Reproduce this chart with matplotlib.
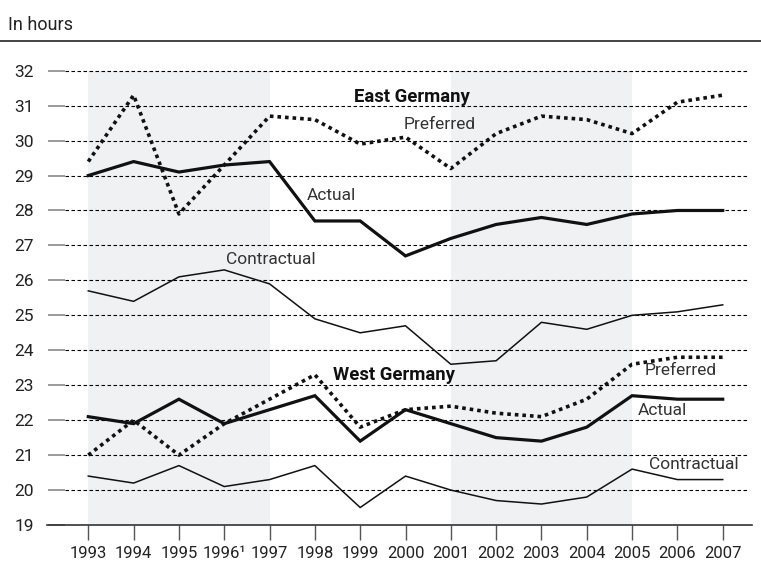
import matplotlib
matplotlib.use("Agg")
import matplotlib.pyplot as plt

plt.rcParams['font.family'] = ['Roboto', 'DejaVu Sans']

years = list(range(1993, 2008))
year_labels = ["1993", "1994", "1995", "1996¹", "1997", "1998", "1999", "2000",
               "2001", "2002", "2003", "2004", "2005", "2006", "2007"]

east_preferred = [29.4, 31.3, 27.9, 29.3, 30.7, 30.6, 29.9, 30.1, 29.2, 30.2, 30.7, 30.6, 30.2, 31.1, 31.3]
east_actual = [29.0, 29.4, 29.1, 29.3, 29.4, 27.7, 27.7, 26.7, 27.2, 27.6, 27.8, 27.6, 27.9, 28.0, 28.0]
east_contractual = [25.7, 25.4, 26.1, 26.3, 25.9, 24.9, 24.5, 24.7, 23.6, 23.7, 24.8, 24.6, 25.0, 25.1, 25.3]

west_preferred = [21.0, 22.0, 21.0, 21.9, 22.6, 23.3, 21.8, 22.3, 22.4, 22.2, 22.1, 22.6, 23.6, 23.8, 23.8]
west_actual = [22.1, 21.9, 22.6, 21.9, 22.3, 22.7, 21.4, 22.3, 21.9, 21.5, 21.4, 21.8, 22.7, 22.6, 22.6]
west_contractual = [20.4, 20.2, 20.7, 20.1, 20.3, 20.7, 19.5, 20.4, 20.0, 19.7, 19.6, 19.8, 20.6, 20.3, 20.3]

shaded_periods = [(1993, 1997), (2001, 2005)]
yticks = list(range(19, 33))

W, H = 761, 565
fig = plt.figure(figsize=(W / 100, H / 100), dpi=100)
ax = fig.add_axes([65 / W, 40 / H, 682 / W, (525 - 70.7) / H])

ax.set_xlim(1992.486, 2007.536)
ax.set_ylim(19, 32)

for a, b in shaded_periods:
    ax.axvspan(a, b, ymin=0, ymax=1, color='#f0f1f3', zorder=0, lw=0)

for y in yticks[1:]:
    ax.axhline(y, color='black', lw=0.8, ls=(0, (3.2, 2.2)), zorder=1, clip_on=False)

# bottom solid axis line extended
ax.plot([-0.026, 1.008], [0, 0], transform=ax.transAxes, color='#333333', lw=1.2,
        clip_on=False, zorder=2)

black = '#111111'
dot = (0, (1.0, 1.1))
ax.plot(years, east_preferred, color=black, lw=2.6, ls=dot, zorder=3)
ax.plot(years, east_actual, color=black, lw=2.3, zorder=3, solid_joinstyle='miter')
ax.plot(years, east_contractual, color=black, lw=1.1, zorder=3)
ax.plot(years, west_preferred, color=black, lw=2.6, ls=dot, zorder=3)
ax.plot(years, west_actual, color=black, lw=2.3, zorder=3, solid_joinstyle='miter')
ax.plot(years, west_contractual, color=black, lw=1.1, zorder=3)

for s in ['top', 'right', 'left', 'bottom']:
    ax.spines[s].set_visible(False)

ax.set_yticks(yticks)
ax.set_yticklabels([str(v) for v in yticks])
ax.tick_params(axis='y', length=12.2, width=1.4, color='#9a9a9a', pad=10,
               labelsize=12.5, labelcolor='#222222')
ax.set_xticks(years)
ax.set_xticklabels(year_labels)
ax.tick_params(axis='x', length=10.8, width=1.0, color='#555555', pad=4,
               labelsize=12, labelcolor='#222222', direction='out')

txt = dict(color='#333333', fontsize=12.5, zorder=4)
ax.text(2000.15, 31.25, "East Germany", ha='center', va='center', fontweight='bold',
        color='#111111', fontsize=13.3, zorder=4)
ax.text(2000.76, 30.47, "Preferred", ha='center', va='center', **txt)
ax.text(1998.36, 28.44, "Actual", ha='center', va='center', **txt)
ax.text(1997.03, 26.6, "Contractual", ha='center', va='center', **txt)
ax.text(1999.75, 23.29, "West Germany", ha='center', va='center', fontweight='bold',
        color='#111111', fontsize=13.3, zorder=4)
ax.text(2006.08, 23.42, "Preferred", ha='center', va='center', **txt)
ax.text(2005.67, 22.29, "Actual", ha='center', va='center', **txt)
ax.text(2006.36, 20.72, "Contractual", ha='center', va='center', **txt)

fig.text(8 / W, 1 - 25 / H, "In hours", ha='left', va='center', fontsize=13, color='#222222')
fig.add_artist(plt.Line2D([0, 1], [1 - 41 / H, 1 - 41 / H], color='#111111', lw=1.1,
                          transform=fig.transFigure))

fig.savefig("out.png", dpi=100)
